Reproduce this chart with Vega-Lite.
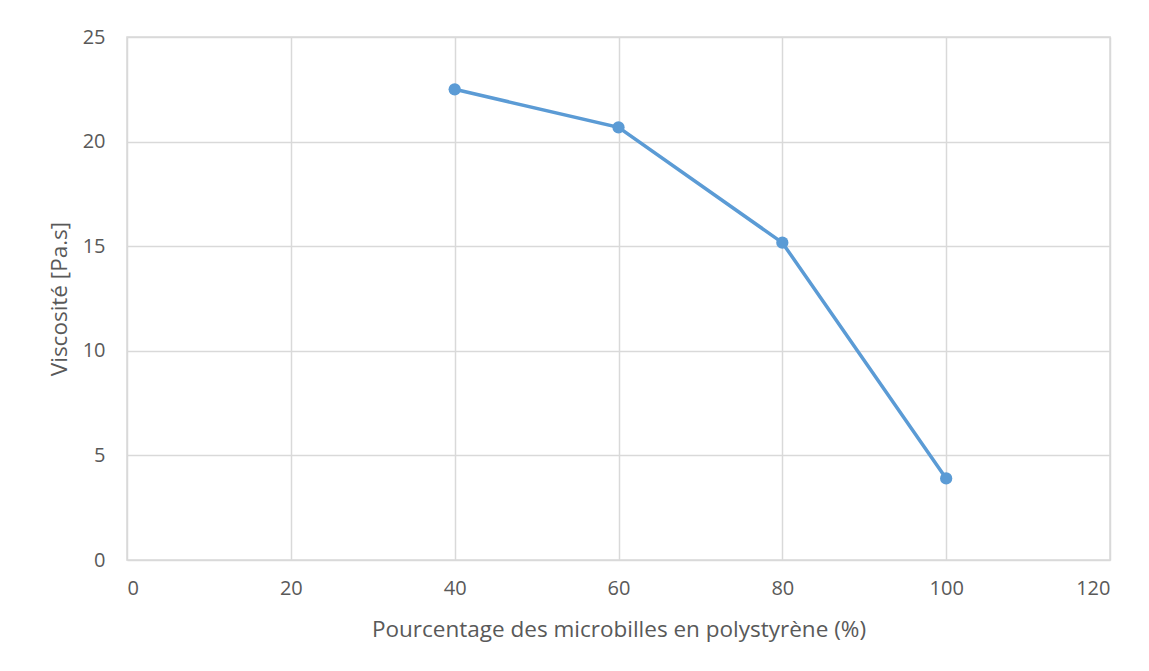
{
  "$schema": "https://vega.github.io/schema/vega-lite/v6.json",
  "width": 983,
  "height": 523,
  "autosize": {"type": "none"},
  "padding": {"left": 127, "top": 37, "right": 39, "bottom": 111},
  "background": "white",
  "config": {
    "view": {"stroke": "#D9D9D9", "strokeWidth": 1.5},
    "font": "Open Sans"
  },
  "data": {
    "values": [
      {"pct": 40, "visc": 22.5},
      {"pct": 60, "visc": 20.68},
      {"pct": 80, "visc": 15.17},
      {"pct": 100, "visc": 3.9}
    ]
  },
  "encoding": {
    "x": {
      "field": "pct", "type": "quantitative",
      "scale": {"domain": [0, 120], "nice": false},
      "axis": {
        "title": "Pourcentage des microbilles en polystyrène  (%)",
        "values": [0, 20, 40, 60, 80, 100, 120],
        "grid": true, "gridColor": "#D9D9D9", "gridWidth": 1.5,
        "domain": false, "ticks": false,
        "labelFont": "Open Sans", "labelFontSize": 20, "labelColor": "#595959", "labelPadding": 18,
        "titleFont": "Open Sans", "titleFontSize": 22.5, "titleColor": "#595959", "titleFontWeight": "normal", "titlePadding": 20
      }
    },
    "y": {
      "field": "visc", "type": "quantitative",
      "scale": {"domain": [0, 25], "nice": false},
      "axis": {
        "title": "Viscosité [Pa.s]",
        "values": [0, 5, 10, 15, 20, 25],
        "grid": true, "gridColor": "#D9D9D9", "gridWidth": 1.5,
        "domain": false, "ticks": false,
        "labelFont": "Open Sans", "labelFontSize": 20, "labelColor": "#595959", "labelPadding": 22,
        "titleFont": "Open Sans", "titleFontSize": 22.5, "titleColor": "#595959", "titleFontWeight": "normal", "titlePadding": 11
      }
    }
  },
  "layer": [
    {"mark": {"type": "line", "color": "#5B9BD5", "strokeWidth": 3.5}},
    {"mark": {"type": "point", "filled": true, "opacity": 1, "color": "#5B9BD5", "size": 150}}
  ]
}
